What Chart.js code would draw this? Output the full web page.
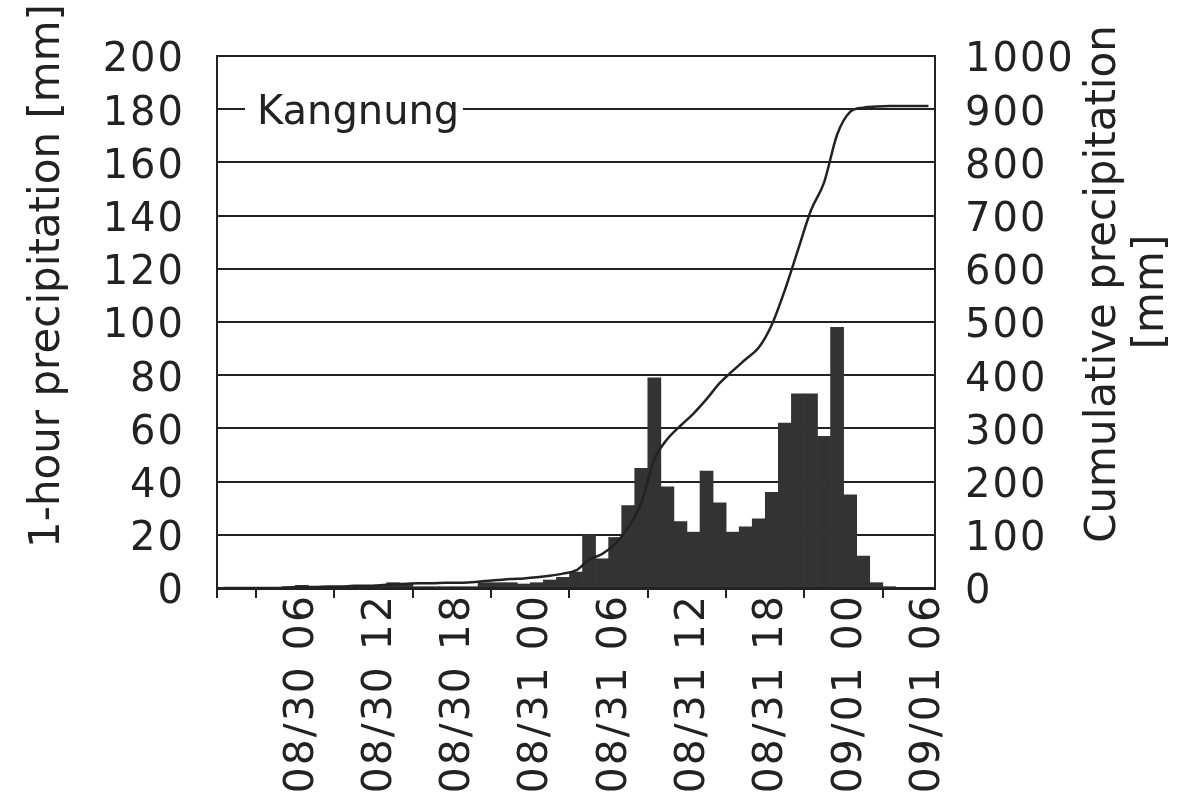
<!DOCTYPE html>
<html>
<head>
<meta charset="utf-8">
<script src="https://cdn.jsdelivr.net/npm/chart.js@4.4.1/dist/chart.umd.min.js"></script>
<style>
  html, body { margin: 0; padding: 0; background: #fff; }
</style>
</head>
<body>
<canvas id="rain" width="1179" height="798"></canvas>
<script>
// hourly categories, 08/30 00 .. 09/01 06
const hours = [
  '08/30 00', '08/30 01', '08/30 02', '08/30 03', '08/30 04', '08/30 05', '08/30 06', '08/30 07',
  '08/30 08', '08/30 09', '08/30 10', '08/30 11', '08/30 12', '08/30 13', '08/30 14', '08/30 15',
  '08/30 16', '08/30 17', '08/30 18', '08/30 19', '08/30 20', '08/30 21', '08/30 22', '08/30 23',
  '08/31 00', '08/31 01', '08/31 02', '08/31 03', '08/31 04', '08/31 05', '08/31 06', '08/31 07',
  '08/31 08', '08/31 09', '08/31 10', '08/31 11', '08/31 12', '08/31 13', '08/31 14', '08/31 15',
  '08/31 16', '08/31 17', '08/31 18', '08/31 19', '08/31 20', '08/31 21', '08/31 22', '08/31 23',
  '09/01 00', '09/01 01', '09/01 02', '09/01 03', '09/01 04', '09/01 05', '09/01 06'
];

// 1-hour precipitation [mm]
const hourly = [
  0, 0, 0, 0, 0, 0.5, 1, 0.5,
  0.5, 0.5, 0.5, 0.5, 1, 2, 1.5, 0.5,
  0.5, 0.5, 0.5, 0.5, 2, 2, 2, 1.5,
  2, 3, 4, 6, 20, 11, 19, 31,
  45, 79, 38, 25, 21, 44, 32, 21,
  23, 26, 36, 62, 73, 73, 57, 98,
  35, 12, 2, 0.5, 0, 0, 0
];

// cumulative precipitation [mm]
const cumulative = [
  0, 0, 0, 0, 0, 1, 2, 2,
  3, 3, 4, 4, 5, 7, 8, 9,
  9, 10, 10, 11, 13, 15, 17, 18,
  20, 23, 27, 33, 53, 64, 83, 114,
  160, 242, 280, 305, 328, 355, 385, 408,
  430, 452, 495, 560, 635, 710, 762, 852,
  895, 903, 905, 906, 906, 906, 906
];

const dateTicks = ['08/30 06', '08/30 12', '08/30 18', '08/31 00', '08/31 06',
                   '08/31 12', '08/31 18', '09/01 00', '09/01 06'];

const station = 'Kangnung';
const leftTitle = '1-hour precipitation [mm]';
const rightTitle = ['Cumulative precipitation', '[mm]'];

const ink = '#222';
const face = 'DejaVu Sans';

function upText(ctx, text, x, y) {
  ctx.save();
  ctx.translate(x, y);
  ctx.rotate(-Math.PI / 2);
  ctx.textAlign = 'center';
  ctx.textBaseline = 'middle';
  ctx.fillText(text, 0, 0);
  ctx.restore();
}

// white page, station name on the 180 line, and both axis titles reading upward
const extras = {
  id: 'extras',
  beforeDraw(chart) {
    const ctx = chart.ctx;
    ctx.save();
    ctx.fillStyle = '#fff';
    ctx.fillRect(0, 0, chart.width, chart.height);
    ctx.restore();
    // the original's digits run wider than DejaVu, open them up a little
    ctx.letterSpacing = '2px';
  },
  beforeDatasetsDraw(chart) {
    const { ctx, chartArea, scales } = chart;
    const y180 = scales.y.getPixelForValue(180);
    ctx.save();
    ctx.letterSpacing = '0px';
    ctx.fillStyle = '#fff';
    ctx.fillRect(chartArea.left + 28, y180 - 4, 218, 8);
    ctx.fillStyle = ink;
    ctx.font = '40px ' + face;
    ctx.textBaseline = 'alphabetic';
    ctx.fillText(station, chartArea.left + 40, y180 + 15);
    ctx.restore();
  },
  afterDraw(chart) {
    const ctx = chart.ctx;
    ctx.save();
    ctx.letterSpacing = '0px';
    ctx.fillStyle = ink;
    ctx.font = '42px ' + face;
    upText(ctx, leftTitle, 48, 276);
    upText(ctx, rightTitle[0], 1104, 284);
    upText(ctx, rightTitle[1], 1152, 292);
    ctx.restore();
  }
};

const tickFont = { family: face, size: 40 };

new Chart(document.getElementById('rain'), {
  data: {
    labels: hours,
    datasets: [
      {
        type: 'line',
        label: 'Cumulative',
        data: cumulative,
        yAxisID: 'y2',
        borderColor: ink,
        borderWidth: 2.5,
        pointRadius: 0,
        cubicInterpolationMode: 'monotone',
        order: 0
      },
      {
        type: 'bar',
        label: '1-hour',
        data: hourly,
        yAxisID: 'y',
        backgroundColor: '#333',
        borderWidth: 0,
        barPercentage: 1,
        categoryPercentage: 1,
        order: 1
      }
    ]
  },
  options: {
    responsive: false,
    animation: false,
    devicePixelRatio: 1,
    layout: { padding: { top: 45 } },
    plugins: {
      legend: { display: false },
      tooltip: { enabled: false }
    },
    scales: {
      x: {
        type: 'category',
        offset: true,
        grid: {
          offset: true,
          drawOnChartArea: false,
          tickLength: 10,
          lineWidth: 2,
          color: c => (c.index === 0 || c.index % 6 === 3) ? ink : 'rgba(0,0,0,0)'
        },
        border: { display: true, color: ink, width: 3 },
        ticks: {
          autoSkip: false,
          maxRotation: 90,
          minRotation: 90,
          padding: -4,
          font: { family: face, size: 41 },
          color: ink,
          callback(v, i) {
            const l = hours[i];
            return dateTicks.includes(l) ? l : '';
          }
        },
        afterFit(s) { s.height = 210; }
      },
      y: {
        position: 'left',
        min: 0,
        max: 200,
        ticks: { stepSize: 20, padding: 32, labelOffset: 5, font: tickFont, color: ink },
        grid: { color: ink, lineWidth: 2, drawTicks: false },
        border: { display: true, color: ink, width: 2 },
        afterFit(s) { s.width = 217; }
      },
      y2: {
        position: 'right',
        min: 0,
        max: 1000,
        ticks: {
          stepSize: 100, padding: 30, labelOffset: 5, font: tickFont, color: ink,
          callback: v => String(v)
        },
        grid: { drawOnChartArea: false, drawTicks: false },
        border: { display: true, color: ink, width: 2 },
        afterFit(s) { s.width = 244; }
      }
    }
  },
  plugins: [extras]
});
</script>
</body>
</html>
